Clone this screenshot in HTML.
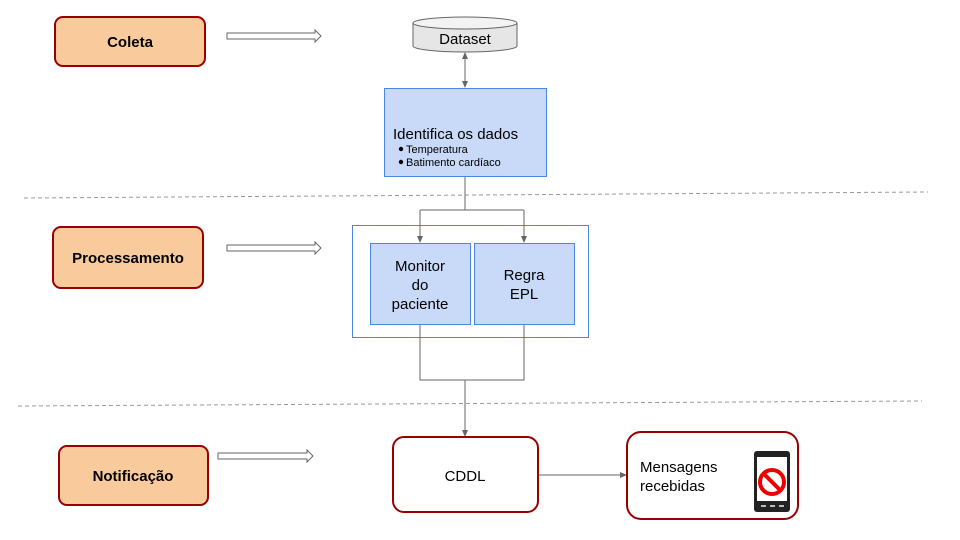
<!DOCTYPE html>
<html><head><meta charset="utf-8"><style>
html,body{margin:0;padding:0;background:#fff;}
svg{display:block;font-family:"Liberation Sans",Arial,sans-serif;}
</style></head><body>
<svg width="960" height="540" viewBox="0 0 960 540" xmlns="http://www.w3.org/2000/svg">
<defs>
<marker id="a" markerWidth="8" markerHeight="8" refX="6" refY="4" orient="auto" markerUnits="userSpaceOnUse"><path d="M0,1 L7,4 L0,7 z" fill="#666"/></marker>
<marker id="as" markerWidth="8" markerHeight="8" refX="1" refY="4" orient="auto" markerUnits="userSpaceOnUse"><path d="M7,1 L0,4 L7,7 z" fill="#666"/></marker>
</defs>
<g fill="#f9cb9c" stroke="#990000" stroke-width="2">
<rect x="55" y="17" width="150" height="49" rx="8"/>
<rect x="53" y="227" width="150" height="61" rx="8"/>
<rect x="59" y="446" width="149" height="59" rx="8"/>
</g>
<g font-weight="bold" font-size="15" text-anchor="middle" fill="#000">
<text x="130" y="47">Coleta</text>
<text x="128" y="263">Processamento</text>
<text x="133" y="481">Notificação</text>
</g>
<g fill="#fff" stroke="#666" stroke-width="1">
<path d="M227,33 L315,33 L315,30 L321,36 L315,42 L315,39 L227,39 z"/>
<path d="M227,245 L315,245 L315,242 L321,248 L315,254 L315,251 L227,251 z"/>
<path d="M218,453 L307,453 L307,450 L313,456 L307,462 L307,459 L218,459 z"/>
</g>
<g stroke="#999" stroke-dasharray="4,3" stroke-width="1">
<line x1="24" y1="198" x2="928" y2="192"/>
<line x1="18" y1="406" x2="922" y2="401"/>
</g>
<path d="M413,23 L413,46 A52,6 0 0 0 517,46 L517,23" fill="#e6e6e6" stroke="#666"/>
<ellipse cx="465" cy="23" rx="52" ry="6" fill="#f3f3f3" stroke="#666"/>
<text x="465" y="44" font-size="15" text-anchor="middle">Dataset</text>
<line x1="465" y1="53" x2="465" y2="87" stroke="#666" marker-start="url(#as)" marker-end="url(#a)"/>
<rect x="384.5" y="88.5" width="162" height="88" fill="#c9daf8" stroke="#4a86e8"/>
<text x="393" y="139" font-size="15">Identifica os dados</text>
<circle cx="401" cy="149" r="2.2" fill="#000"/><circle cx="401" cy="162" r="2.2" fill="#000"/>
<text x="406" y="153" font-size="11">Temperatura</text>
<text x="406" y="166" font-size="11">Batimento cardíaco</text>
<rect x="352.5" y="225.5" width="236" height="112" fill="#fff" stroke="#4a86e8"/>
<rect x="370.5" y="243.5" width="100" height="81" fill="#c9daf8" stroke="#4a86e8"/>
<rect x="474.5" y="243.5" width="100" height="81" fill="#c9daf8" stroke="#4a86e8"/>
<g font-size="15" text-anchor="middle">
<text x="420" y="271">Monitor</text><text x="420" y="290">do</text><text x="420" y="309">paciente</text>
<text x="524" y="280">Regra</text><text x="524" y="299">EPL</text>
</g>
<g stroke="#666" fill="none">
<path d="M465,177 L465,210 M420,210 L524,210"/>
<line x1="420" y1="210" x2="420" y2="242" marker-end="url(#a)"/>
<line x1="524" y1="210" x2="524" y2="242" marker-end="url(#a)"/>
<path d="M420,325 L420,380 L524,380 L524,325"/>
<line x1="465" y1="380" x2="465" y2="436" marker-end="url(#a)"/>
<line x1="538" y1="475" x2="626" y2="475" marker-end="url(#a)"/>
</g>
<rect x="393" y="437" width="145" height="75" rx="11" fill="#fff" stroke="#990000" stroke-width="2"/>
<text x="465" y="481" font-size="15" text-anchor="middle">CDDL</text>
<rect x="627" y="432" width="171" height="87" rx="14" fill="#fff" stroke="#990000" stroke-width="2"/>
<text x="640" y="472" font-size="15">Mensagens</text>
<text x="640" y="491" font-size="15">recebidas</text>
<rect x="754" y="451" width="36" height="61" rx="3" fill="#222"/>
<rect x="757" y="457" width="30" height="44" fill="#fff"/>
<circle cx="772" cy="482" r="12" fill="#fff" stroke="#e00" stroke-width="4"/>
<line x1="764" y1="474" x2="780" y2="490" stroke="#e00" stroke-width="4"/>
<g fill="#bbb"><rect x="761" y="505" width="5" height="2"/><rect x="770" y="505" width="5" height="2"/><rect x="779" y="505" width="5" height="2"/></g>
</svg>
</body></html>
